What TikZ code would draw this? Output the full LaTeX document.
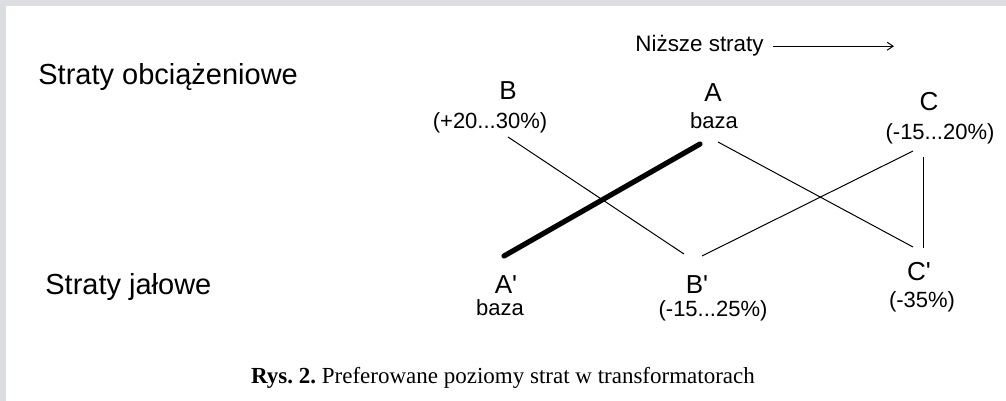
\documentclass[tikz,border=0pt]{standalone}
\usepackage{fontspec}
\setmainfont{Liberation Sans}
\newfontfamily\podpisfont{Liberation Serif}
\usetikzlibrary{arrows.meta}

\definecolor{tlo}{RGB}{220,221,224}

\begin{document}
\frenchspacing
\begin{tikzpicture}[x=0.5pt, y=-0.5pt,
    opis/.style={inner sep=0pt, anchor=base west, font=\fontsize{14.5}{16}\selectfont},
    litera/.style={inner sep=0pt, anchor=base, font=\fontsize{13}{15}\selectfont},
    wartosc/.style={inner sep=0pt, anchor=base, font=\fontsize{11}{13}\selectfont},
    cienka/.style={line width=0.5pt},
    gruba/.style={line width=2.6pt, line cap=round}]

  % ramka
  \fill[tlo] (0,0) rectangle (1006,401);
  \fill[white] (6,6) rectangle (1006,401);
  \useasboundingbox (0,0) rectangle (1006,401);

  % opisy poziomow
  \node[opis] (obc) at (38,85) {Straty obciążeniowe};
  \node[opis] (jal) at (45,294) {Straty jałowe};

  % kierunek
  \node[opis, font=\fontsize{11.2}{13}\selectfont] (nizsze) at (635,52) {Niższe straty};
  \draw[cienka, -{Straight Barb[length=3pt, width=4pt]}]
    ([xshift=4.5pt]nizsze.east) -- ++(121,0);

  % straty obciazeniowe
  \node[litera] (B) at (508,100) {B};
  \node[wartosc] (Bw) at (490,128) {(+20...30\%)};
  \node[litera] (A) at (713,102) {A};
  \node[wartosc] (Aw) at (714,128) {baza};
  \node[litera] (C) at (929,111) {C};
  \node[wartosc] (Cw) at (940,140) {(-15...20\%)};

  % straty jalowe
  \node[litera] (Ap) at (506,293) {A\textquotesingle};
  \node[wartosc] (Apw) at (500,315) {baza};
  \node[litera] (Bp) at (697,293) {B\textquotesingle};
  \node[wartosc] (Bpw) at (713,316) {(-15...25\%)};
  \node[litera] (Cp) at (919,280) {C\textquotesingle};
  \node[wartosc] (Cpw) at (922,307) {(-35\%)};

  % konce linii
  \coordinate (b1) at (508,137);
  \coordinate (b2) at (684,254);
  \coordinate (a1) at (700,144);
  \coordinate (a2) at (504,256);
  \coordinate (a3) at (718,142);
  \coordinate (c1) at (913,247);
  \coordinate (b3) at (702,256);
  \coordinate (c2) at (913,151);
  \coordinate (c3) at (923,157);
  \coordinate (c4) at (923,248);

  \draw[cienka] (b1) -- (b2);
  \draw[gruba] (a2) -- (a1);
  \draw[cienka] (a3) -- (c1);
  \draw[cienka] (b3) -- (c2);
  \draw[cienka] (c3) -- (c4);

  % podpis
  \node[inner sep=0pt, anchor=base, font=\podpisfont\fontsize{11.5}{13}\selectfont]
    (podpis) at (503,383) {\textbf{Rys. 2.} Preferowane poziomy strat w transformatorach};

\end{tikzpicture}
\end{document}
